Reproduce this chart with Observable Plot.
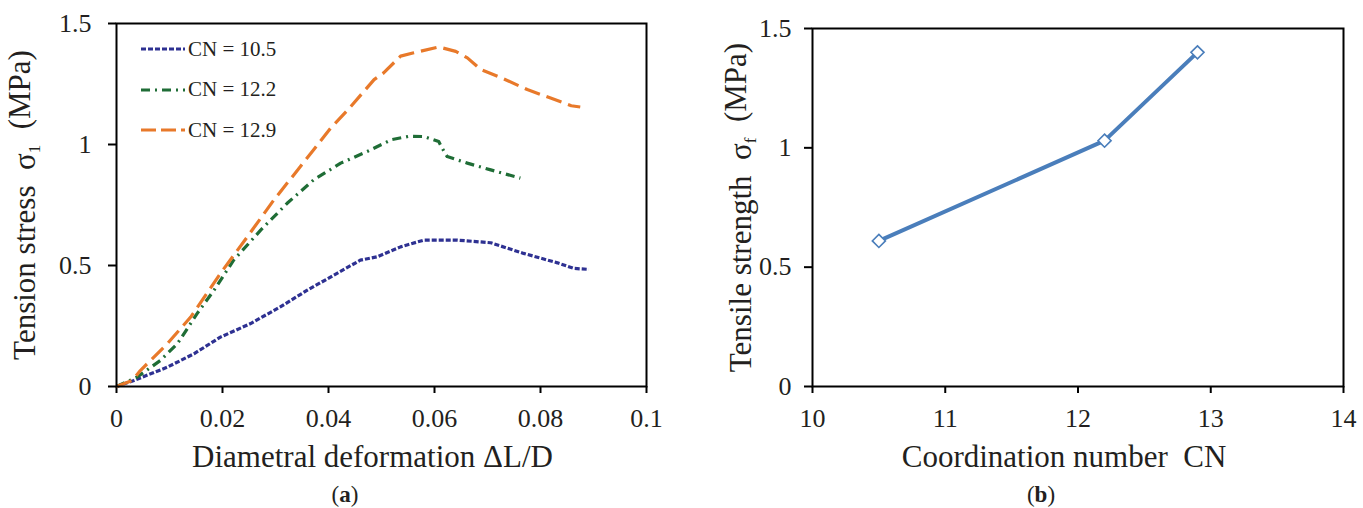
<!DOCTYPE html>
<html><head><meta charset="utf-8">
<script src="https://cdn.jsdelivr.net/npm/d3@7"></script>
<script src="https://cdn.jsdelivr.net/npm/@observablehq/plot@0.6"></script>
<style>
body{margin:0;background:#fff;font-family:"Liberation Serif","Times New Roman",serif;}
#wrap{position:relative;width:1363px;height:508px;overflow:hidden;background:#fff}
.panel{position:absolute;top:0}
.cap{position:absolute;font-size:23px;color:#231f20;transform:translateX(-50%);line-height:26px;white-space:nowrap}
.legend{position:absolute;left:141px;top:29px;font-size:21px;color:#231f20}
.legend .row{height:40.5px;display:flex;align-items:center}
.legend svg{margin-right:3px}
</style></head>
<body><div id="wrap"></div>
<script>
// ---- Panel (a): tension stress vs diametral deformation ----
const xTicksA = [0, 0.02, 0.04, 0.06, 0.08, 0.1];
const yTicks = [0, 0.5, 1, 1.5];

const cn105X = [0, 0.0033, 0.0096, 0.0146, 0.0196, 0.0253, 0.0309, 0.036, 0.041, 0.046, 0.0492, 0.0536, 0.058, 0.0643, 0.0706, 0.0768, 0.0832, 0.0863, 0.0891];
const cn105Y = [0, 0.025, 0.08, 0.135, 0.204, 0.26, 0.329, 0.398, 0.46, 0.522, 0.536, 0.577, 0.605, 0.605, 0.594, 0.55, 0.511, 0.488, 0.484];

const cn122X = [0, 0.0039, 0.0083, 0.0115, 0.0152, 0.0184, 0.0221, 0.0272, 0.0322, 0.0372, 0.0423, 0.0473, 0.0519, 0.0552, 0.058, 0.0608, 0.0618, 0.0624, 0.0662, 0.0706, 0.0762];
const cn122Y = [0, 0.039, 0.108, 0.177, 0.301, 0.398, 0.522, 0.646, 0.757, 0.854, 0.923, 0.971, 1.02, 1.034, 1.033, 1.012, 0.971, 0.95, 0.923, 0.895, 0.861];

const cn129X = [0, 0.003, 0.0045, 0.0096, 0.014, 0.0196, 0.0247, 0.0297, 0.0347, 0.0372, 0.0404, 0.0437, 0.0486, 0.0504, 0.0536, 0.0561, 0.0608, 0.064, 0.0662, 0.0687, 0.0731, 0.0775, 0.0819, 0.0858, 0.0875];
const cn129Y = [0, 0.025, 0.066, 0.177, 0.287, 0.467, 0.619, 0.771, 0.909, 0.978, 1.068, 1.144, 1.268, 1.296, 1.365, 1.379, 1.403, 1.385, 1.358, 1.31, 1.271, 1.227, 1.192, 1.16, 1.155];

const seriesNames = ["CN = 10.5", "CN = 12.2", "CN = 12.9"];
const seriesColors = ["#2e3192", "#1f6d36", "#e8792a"];
const seriesDash = ["5,2", "9,5,2,5", "16,7"];

// ---- Panel (b): tensile strength vs coordination number ----
const xTicksB = [10, 11, 12, 13, 14];
const cnValues = [10.5, 12.2, 12.9];
const strength = [0.61, 1.03, 1.40];

const FONT = '"Liberation Serif","Times New Roman",serif';
const INK = "#231f20";
const fmt = d => String(d);

const plotA = Plot.plot({
  width: 681, height: 480,
  marginLeft: 116, marginRight: 35, marginTop: 23, marginBottom: 94,
  style: {fontFamily: FONT, fontSize: "26px", color: INK, background: "transparent"},
  x: {domain: [0, 0.1]},
  y: {domain: [0, 1.5]},
  marks: [
    Plot.axisX({ticks: xTicksA, tickFormat: fmt, tickSize: 7, tickPadding: 15, strokeWidth: 2, stroke: "#000", fontSize: 26,
      label: "Diametral deformation ΔL/D", labelArrow: false, labelAnchor: "center", labelOffset: 80}),
    Plot.axisY({ticks: yTicks, tickFormat: fmt, tickSize: 8, tickPadding: 17, strokeWidth: 2, stroke: "#000", fontSize: 26,
      label: "Tension stress  σ1  (MPa)", labelArrow: false, labelAnchor: "center", labelOffset: 104}),
    Plot.line(cn105X, {x: cn105X, y: cn105Y, stroke: seriesColors[0], strokeWidth: 3.2, strokeDasharray: seriesDash[0], strokeLinecap: "butt"}),
    Plot.line(cn122X, {x: cn122X, y: cn122Y, stroke: seriesColors[1], strokeWidth: 3.2, strokeDasharray: seriesDash[1], strokeLinecap: "butt"}),
    Plot.line(cn129X, {x: cn129X, y: cn129Y, stroke: seriesColors[2], strokeWidth: 3.2, strokeDasharray: seriesDash[2], strokeLinecap: "butt"}),
    Plot.frame({stroke: "#000", strokeWidth: 2})
  ]
});

const plotB = Plot.plot({
  width: 682, height: 480,
  marginLeft: 131, marginRight: 20, marginTop: 28, marginBottom: 94,
  style: {fontFamily: FONT, fontSize: "26px", color: INK, background: "transparent"},
  x: {domain: [10, 14]},
  y: {domain: [0, 1.5]},
  marks: [
    Plot.axisX({ticks: xTicksB, tickFormat: fmt, tickSize: 7, tickPadding: 15, strokeWidth: 2, stroke: "#000", fontSize: 26,
      label: "Coordination number  CN", labelArrow: false, labelAnchor: "center", labelOffset: 80}),
    Plot.axisY({ticks: yTicks, tickFormat: fmt, tickSize: 8, tickPadding: 13, strokeWidth: 2, stroke: "#000", fontSize: 26,
      label: "Tensile strength  σf  (MPa)", labelArrow: false, labelAnchor: "center", labelOffset: 84}),
    Plot.line(cnValues, {x: cnValues, y: strength, stroke: "#4a7ebb", strokeWidth: 4}),
    Plot.dot(cnValues, {x: cnValues, y: strength, symbol: "diamond2", r: 5.9, fill: "#fff", stroke: "#4a7ebb", strokeWidth: 1.6}),
    Plot.frame({stroke: "#000", strokeWidth: 2})
  ]
});

const wrap = document.getElementById("wrap");
plotA.classList.add("panel"); plotA.style.left = "0px";
plotB.classList.add("panel"); plotB.style.left = "681px";
wrap.appendChild(plotA);
wrap.appendChild(plotB);

// Axis title styling: larger font, subscripts on the sigma symbols, small horizontal nudges
function styleLabels(svg, dxX) {
  const s = d3.select(svg);
  s.selectAll('g[aria-label="x-axis label"] text').attr("font-size", 31).attr("dx", dxX);
  s.selectAll('g[aria-label="y-axis label"] text').each(function() {
    const t = d3.select(this);
    const full = t.text();
    const idx = full.indexOf("σ");
    if (idx < 0) return;
    const before = full.slice(0, idx + 1);
    const sub = full.slice(idx + 1, idx + 2);
    const after = full.slice(idx + 2);
    t.text(null).attr("font-size", 31).style("white-space", "pre");
    t.append("tspan").text(before);
    t.append("tspan").attr("font-size", 17).attr("dy", "0.3em").text(sub);
    t.append("tspan").attr("dy", "-0.3em").text(after);
  });
}
styleLabels(plotA, -9);
styleLabels(plotB, -14);

// Legend (inside panel a)
const legend = document.createElement("div");
legend.className = "legend";
seriesNames.forEach((name, i) => {
  const row = document.createElement("div");
  row.className = "row";
  row.innerHTML = `<svg width="44" height="8"><line x1="0" x2="44" y1="4" y2="4" stroke="${seriesColors[i]}" stroke-width="3.2" stroke-dasharray="${i === 2 ? "15,5" : seriesDash[i]}"/></svg><span>${name}</span>`;
  legend.appendChild(row);
});
wrap.appendChild(legend);

// Captions
const capA = document.createElement("div");
capA.className = "cap"; capA.style.left = "345px"; capA.style.top = "482px";
capA.innerHTML = "(<b>a</b>)";
const capB = document.createElement("div");
capB.className = "cap"; capB.style.left = "1041px"; capB.style.top = "482px";
capB.innerHTML = "(<b>b</b>)";
wrap.appendChild(capA);
wrap.appendChild(capB);
</script>
</body></html>
